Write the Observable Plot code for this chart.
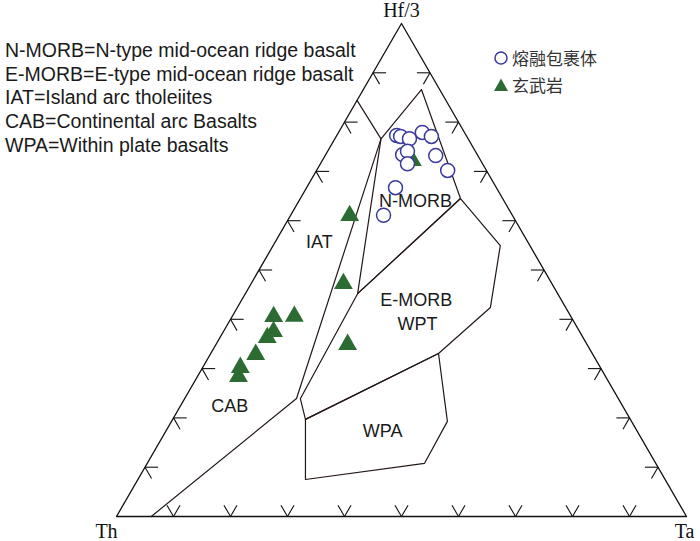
<!DOCTYPE html>
<html><head><meta charset="utf-8">
<script src="https://cdn.jsdelivr.net/npm/d3@7"></script>
<script src="https://cdn.jsdelivr.net/npm/@observablehq/plot@0.6"></script>
<style>
body{margin:0;background:#fff;}
#wrap{position:relative;width:700px;height:541px;overflow:hidden;}
#abbr{position:absolute;left:5px;top:39px;font-family:"Liberation Sans",Arial,sans-serif;font-size:19.5px;line-height:23.7px;color:#1a1a1a;white-space:nowrap;}
#legend{position:absolute;left:493px;top:44px;font-family:"Noto Sans CJK SC",sans-serif;font-size:17px;color:#333;line-height:27px;}
#legend div{display:flex;align-items:center;}
#legend svg{margin-right:3px;}
</style></head><body><div id="wrap"></div>
<script>
// ---- data (ternary percentages: [Th, Hf/3, Ta]) ----
const abbreviations = [
  "N-MORB=N-type mid-ocean ridge basalt",
  "E-MORB=E-type mid-ocean ridge basalt",
  "IAT=Island arc tholeiites",
  "CAB=Continental arc Basalts",
  "WPA=Within plate basalts"
];
const seriesNames = ["熔融包裹体", "玄武岩"];
const vertexNames = ["Th", "Hf/3", "Ta"];
const tickValues = [10, 20, 30, 40, 50, 60, 70, 80, 90];

// field boundaries
const boundaryD = [[93.9, 0, 6.1], [56.4, 23.9, 19.6], [15.3, 76.6, 8.1], [15.6, 84.4, 0]];
const fieldA = [[15.3, 76.6, 8.1], [3.2, 86.6, 10.2], [7.4, 64.5, 28.1], [35.1, 45.2, 19.7]];
const fieldB = [[35.1, 45.2, 19.7], [7.4, 64.5, 28.1], [5.2, 55.0, 39.9], [13.2, 42.4, 44.4], [27.0, 33.1, 40.0], [57.0, 19.7, 23.3], [55.8, 23.9, 20.3]];
const fieldC = [[57.0, 19.7, 23.3], [27.0, 33.1, 40.0], [32.3, 19.3, 48.4], [40.6, 10.8, 48.7], [63.1, 7.5, 29.4]];

// field labels
const fieldLabelText = ["N-MORB", "IAT", "E-MORB", "WPT", "WPA", "CAB"];
const fieldLabelPos = [[15.6, 63.9, 20.5], [36.6, 55.6, 7.8], [25.5, 43.8, 30.7], [27.7, 38.9, 33.3], [44.7, 17.2, 38.1], [69.0, 22.3, 8.7]];

// 熔融包裹体 (melt inclusions)
const inclusions = [
  [12.2, 77.3, 10.5], [11.6, 77.1, 11.3], [10.3, 76.7, 13.1], [7.4, 77.9, 14.7],
  [6.2, 77.1, 16.7], [13.1, 73.4, 13.5], [11.9, 74.0, 14.0], [13.2, 71.6, 15.3],
  [7.4, 73.2, 19.4], [6.8, 70.2, 23.0], [17.7, 66.7, 15.6], [22.6, 61.1, 16.3]
];
// 玄武岩 (basalt)
const basalts = [
  [12.0, 72.2, 15.8], [28.6, 61.1, 10.4], [36.6, 47.3, 16.2], [42.0, 34.9, 23.1],
  [48.5, 40.6, 10.9], [52.2, 40.6, 7.3], [53.7, 37.5, 8.8], [55.4, 36.3, 8.3],
  [59.2, 32.9, 8.0], [63.1, 30.2, 6.6], [64.4, 28.4, 7.2]
];

// ---- helpers ----
const S3 = Math.sqrt(3) / 2;
function tern(p) {
  const s = p[0] + p[1] + p[2];
  const h = p[1] / s, t = p[2] / s;
  return {x: t + h / 2, y: h * S3};
}
const LINE = "#231815";
const BLUE = "#3a3a9c";
const GREEN = "#2c6c33";

const outline = [[100, 0, 0], [0, 100, 0], [0, 0, 100], [100, 0, 0]].map(tern);
const polys = [];
boundaryD.forEach(p => polys.push({...tern(p), f: "D"}));
[["A", fieldA], ["B", fieldB], ["C", fieldC]].forEach(([f, arr]) => {
  arr.concat([arr[0]]).forEach(p => polys.push({...tern(p), f}));
});

// ticks
const L = 0.023;
const ticks = [];
tickValues.forEach(v => {
  let b = tern([100 - v, 0, v]);
  ticks.push({x1: b.x, y1: b.y, x2: b.x - 0.5 * L, y2: b.y + S3 * L});
  ticks.push({x1: b.x, y1: b.y, x2: b.x + 0.5 * L, y2: b.y + S3 * L});
  let l = tern([100 - v, v, 0]);
  ticks.push({x1: l.x, y1: l.y, x2: l.x + L, y2: l.y});
  ticks.push({x1: l.x, y1: l.y, x2: l.x + 0.5 * L, y2: l.y - S3 * L});
  let r = tern([0, v, 100 - v]);
  ticks.push({x1: r.x, y1: r.y, x2: r.x - L, y2: r.y});
  ticks.push({x1: r.x, y1: r.y, x2: r.x - 0.5 * L, y2: r.y - S3 * L});
});

const labels = fieldLabelText.map((t, i) => ({...tern(fieldLabelPos[i]), t}));
const vTh = [{...tern([100, 0, 0]), t: vertexNames[0]}];
const vHf = [{...tern([0, 100, 0]), t: vertexNames[1]}];
const vTa = [{...tern([0, 0, 100]), t: vertexNames[2]}];
const serif = "Liberation Serif, Times New Roman, serif";

const chart = Plot.plot({
  width: 700, height: 541,
  marginLeft: 116, marginRight: 14, marginTop: 23, marginBottom: 25,
  x: {domain: [0, 1], axis: null},
  y: {domain: [0, S3], axis: null},
  style: {background: "transparent", overflow: "visible"},
  marks: [
    Plot.line(outline, {x: "x", y: "y", stroke: "#111", strokeWidth: 1.3}),
    Plot.link(ticks, {x1: "x1", y1: "y1", x2: "x2", y2: "y2", stroke: "#111", strokeWidth: 1.1}),
    Plot.line(polys, {x: "x", y: "y", z: "f", stroke: LINE, strokeWidth: 1.2}),
    Plot.dot(basalts.map(tern), {x: "x", y: "y", symbol: "triangle", r: 7, fill: GREEN, stroke: "none"}),
    Plot.dot(inclusions.map(tern), {x: "x", y: "y", r: 7, fill: "white", stroke: BLUE, strokeWidth: 1.5}),
    Plot.text(labels, {x: "x", y: "y", text: "t", fontSize: 18, fill: "#1a1a1a", fontFamily: "Liberation Sans, Arial, sans-serif"}),
    Plot.text(vTh, {x: "x", y: "y", text: "t", dx: -10, dy: 15, fontSize: 20, fill: "#111", fontFamily: serif}),
    Plot.text(vHf, {x: "x", y: "y", text: "t", dx: 0, dy: -13, fontSize: 20, fill: "#111", fontFamily: serif}),
    Plot.text(vTa, {x: "x", y: "y", text: "t", dx: -2, dy: 15, fontSize: 20, fill: "#111", fontFamily: serif})
  ]
});
const wrap = document.getElementById("wrap");
wrap.appendChild(chart);

const abbr = document.createElement("div");
abbr.id = "abbr";
abbr.innerHTML = abbreviations.map(s => `<div>${s}</div>`).join("");
wrap.appendChild(abbr);

const leg = document.createElement("div");
leg.id = "legend";
leg.innerHTML =
  `<div><svg width="16" height="16"><circle cx="8" cy="8" r="6" fill="white" stroke="${BLUE}" stroke-width="1.5"/></svg>${seriesNames[0]}</div>` +
  `<div><svg width="16" height="16"><path d="M8,1.5 L15,14 L1,14 Z" fill="${GREEN}"/></svg>${seriesNames[1]}</div>`;
wrap.appendChild(leg);
</script>
</body></html>
